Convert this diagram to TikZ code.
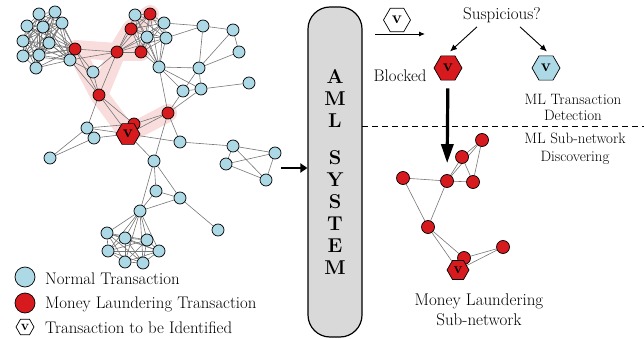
\documentclass[tikz,border=0pt]{standalone}
\usepackage{fontspec}
\usetikzlibrary{shapes.geometric,arrows.meta}
\definecolor{nblue}{RGB}{173,216,230}
\definecolor{nred}{RGB}{214,26,30}
\definecolor{bandc}{RGB}{249,221,221}
\definecolor{edgec}{RGB}{118,118,118}
\definecolor{amlgray}{RGB}{217,217,217}
\pgfdeclarelayer{bandlayer}
\pgfdeclarelayer{edgelayer}
\pgfsetlayers{bandlayer,edgelayer,main}
\begin{document}
\begin{tikzpicture}[x=1pt,y=-1pt,
  bn/.style={circle,draw=black,line width=0.7pt,fill=nblue,minimum size=12pt,inner sep=0pt},
  rn/.style={bn,fill=nred},
  sn/.style={rn,minimum size=13pt},
  hexv/.style={regular polygon,regular polygon sides=6,draw=black,line width=0.7pt,inner sep=0pt,font=\fontsize{17}{17}\selectfont\bfseries},
  ed/.style={draw=edgec,line width=0.6pt},
  lbl/.style={font=\fontsize{16.8}{18}\selectfont},
  thinarr/.style={-{Latex[length=6pt,width=5pt]},line width=0.9pt},
  thickarr/.style={-{Triangle[length=7pt,width=9pt]},line width=2.4pt},
  bigarr/.style={-{Triangle[length=19pt,width=12pt]},line width=3.2pt},
  bandline/.style={draw=bandc,line width=18pt,line cap=round,line join=round},
  amlbox/.style={draw=black,line width=1.2pt,fill=amlgray,rounded corners=22pt,minimum width=54pt,minimum height=330pt,align=center,font=\fontsize{20}{22.1}\selectfont\bfseries}
]
\useasboundingbox (0,0) rectangle (644,339);

% ---------------- left graph: nodes ----------------
\foreach \n/\x/\y in {a1/39/14,a2/55/12,a3/27/26,a4/43/27,a5/62/23,a6/23/41,a7/49/43,a8/23/56,a9/39/55,a10/36/68,
  b1/70/60,t1/93/72,c1/135/15,c3/164/23,c5/147/37,c6/166/38,d1/159/67,
  e1/203/26,e2/233/30,e3/239/52,e4/199/68,e5/183/91,e6/201/89,e7/249/83,
  f1/87/128,f2/94/138,f3/50/158,g1/180/142,g2/154/161,g3/233/146,g4/275/153,g5/226/164,g6/266/180,
  h1/156/191,h2/180/198,h3/140/211,h4/218/230,
  k1/107/233,k2/125/238,k3/147/240,k4/108/251,k5/159/251,k6/125/262,k7/143/263}
  \node[bn] (\n) at (\x,\y) {};
\foreach \n/\x/\y in {R1/75/49,R2/117/52,c2/150/14,c4/131/29,c7/141/52,R3/99/95,R4/168/113,rs/134/124}
  \node[rn] (\n) at (\x,\y) {};
\node[hexv,fill=nred,minimum size=24pt] (V) at (128,134) {v};

% ---------------- left graph: highlight band ----------------
\begin{pgfonlayer}{bandlayer}
\draw[bandline] (c2.center) -- (c4.center) -- (R2.center) -- (R1.center) -- (R3.center) -- (V.center) -- (R4.center);
\draw[bandline] (R2.center) -- (R3.center);
\draw[bandline] (R2.center) -- (c7.center);
\end{pgfonlayer}

% ---------------- left graph: edges ----------------
\begin{pgfonlayer}{edgelayer}
\foreach \i in {1,...,9}{
  \pgfmathtruncatemacro\s{\i+1}
  \foreach \j in {\s,...,10} \draw[ed] (a\i) -- (a\j);
}
\foreach \i in {1,...,10}{ \draw[ed] (a\i) -- (R1); \draw[ed] (a\i) -- (b1); }
\foreach \i in {1,...,6}{
  \pgfmathtruncatemacro\s{\i+1}
  \foreach \j in {\s,...,7} \draw[ed] (c\i) -- (c\j);
}
\foreach \i in {1,...,7}{ \draw[ed] (c\i) -- (R2); \draw[ed] (c\i) -- (d1); }
\foreach \u/\v in {R1/R2,R1/t1,R1/R3,b1/R1,b1/R2,b1/t1,b1/R3,R2/t1,R2/R3,t1/R3,
  c3/e1,c6/e1,e1/e2,e1/e4,e2/e3,e2/e4,e3/e4,
  d1/e4,d1/e5,d1/e6,d1/R4,e4/e5,e4/e6,e5/e6,e6/e7,e5/R4,e6/R4,
  R3/V,R3/rs,R3/f1,f1/f3,f2/f3,f1/V,f1/rs,f2/V,
  V/R4,rs/R4,V/g1,V/g2,R4/g1,R4/g2,
  g1/g3,g3/g4,g3/g6,g3/g5,g5/g4,g5/g6,g4/g6,
  g2/h1,g2/h2,g2/h3,h1/h2,h1/h3,h2/h3,h2/h4}
  \draw[ed] (\u) -- (\v);
\foreach \i in {1,...,7} \draw[ed] (h3) -- (k\i);
\foreach \i in {1,...,6}{
  \pgfmathtruncatemacro\s{\i+1}
  \foreach \j in {\s,...,7} \draw[ed] (k\i) -- (k\j);
}
\end{pgfonlayer}

% ---------------- legend ----------------
\node[bn,minimum size=20pt] (lgb) at (25,277) {};
\node[rn,minimum size=20pt] (lgr) at (25,303) {};
\node[hexv,fill=white,minimum size=18pt,font=\fontsize{14}{14}\selectfont\bfseries] (lgv) at (25,327) {v};
\node[lbl,anchor=base west,inner sep=0pt] (lgbt) at (45,284) {Normal Transaction};
\node[lbl,anchor=base west,inner sep=0pt] (lgrt) at (45,308.5) {Money Laundering Transaction};
\node[lbl,anchor=base west,inner sep=0pt] (lgvt) at (45,333) {Transaction to be Identified};

% ---------------- AML system ----------------
\node[amlbox] (aml) at (335,172) {A\\M\\L\\[14.6pt]S\\Y\\S\\T\\E\\M};
\coordinate (gout) at (281,168);
\draw[thickarr] (gout) -- (gout -| aml.west);

% ---------------- right part: detection ----------------
\node[hexv,fill=white,minimum size=27pt] (inv) at (397,20) {v};
\coordinate (inA) at (375,34);
\coordinate (inB) at (425,34);
\draw[thinarr] (inA) -- (inB);
\node[font=\fontsize{17}{17}\selectfont,anchor=base] (susp) at (502,20) {Suspicious?};
\node[hexv,fill=nred,minimum size=28pt] (redhex) at (448,68) {v};
\node[hexv,fill=nblue,minimum size=28pt] (bluehex) at (546,68) {v};
\draw[thinarr,-{Latex[length=7pt,width=6pt]}] ([xshift=-25pt]susp.south) -- ([xshift=2pt,yshift=4pt]redhex.north);
\draw[thinarr,-{Latex[length=7pt,width=6pt]}] ([xshift=18pt]susp.south) -- ([xshift=1pt,yshift=4pt]bluehex.north);
\node[lbl,anchor=base] (blk) at (400,82) {Blocked};
\node[font=\fontsize{15}{16}\selectfont,align=center] (mltd) at (573,107) {ML Transaction\\Detection};
\coordinate (dashA) at (362,127);
\coordinate (dashB) at (644,127);
\draw[line width=1pt,dash pattern=on 6pt off 4pt] (dashA) -- (dashB);
\node[font=\fontsize{15}{18}\selectfont,align=center] (mlsd) at (575,149) {ML Sub-network\\Discovering};

% ---------------- right part: sub-network ----------------
\foreach \n/\x/\y in {s1/482/140,s2/462/157,s3/403/178,s4/447/181,s5/473/182,s6/428/227,s7/503/247,s8/464/258}
  \node[sn] (\n) at (\x,\y) {};
\node[hexv,fill=nred,minimum size=22pt,font=\fontsize{15}{15}\selectfont\bfseries] (sV) at (458,270) {v};
\begin{pgfonlayer}{edgelayer}
\foreach \u/\v in {s4/s2,s4/s1,s2/s1,s2/s5,s1/s5,s4/s5,s3/s4,s3/s6,s4/s6,s6/s8,s6/sV,s7/s8,s7/sV}
  \draw[ed] (\u) -- (\v);
\end{pgfonlayer}
\draw[bigarr,shorten <=8pt,shorten >=11pt] (redhex) -- (s4);
\node[font=\fontsize{17}{20}\selectfont,align=center] (mlsub) at (479,310) {Money Laundering\\Sub-network};
\end{tikzpicture}
\end{document}
